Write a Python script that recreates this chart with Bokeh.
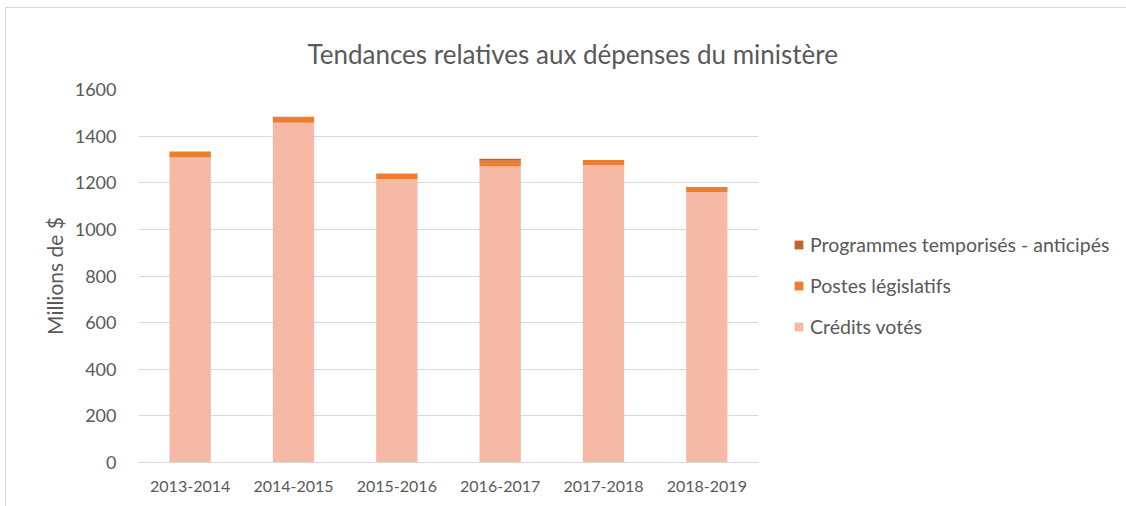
from bokeh.plotting import figure
from bokeh.models import Range1d, FixedTicker, Legend, LegendItem, FactorRange, ColumnDataSource
from bokeh.embed import file_html
from bokeh.resources import INLINE

years = ["2013-2014", "2014-2015", "2015-2016", "2016-2017", "2017-2018", "2018-2019"]
voted = [1308, 1457, 1216, 1270, 1276, 1159]
statutory = [26, 26, 24, 24, 22, 23]
sunset = [0, 0, 0, 9, 0, 0]
series_labels = ["Crédits votés", "Postes législatifs", "Programmes temporisés - anticipés"]
y_ticks = [0, 200, 400, 600, 800, 1000, 1200, 1400, 1600]

colors = ["#F5B9A6", "#ED7D31", "#C4622A"]
FONT = "Lato"
GRAY = "#595959"

src = ColumnDataSource(dict(years=years, voted=voted, statutory=statutory, sunset=sunset))

p = figure(x_range=FactorRange(*years), y_range=Range1d(0, 1600),
           frame_width=620, frame_height=373, output_backend="svg", toolbar_location=None,
           min_border_left=132, min_border_right=366, min_border_top=81, min_border_bottom=44)
p.outline_line_color = None
p.styles = {"margin-top": "7px", "margin-left": "5px",
            "border-top": "1px solid #d9d9d9", "border-left": "1px solid #d9d9d9"}

rs = p.vbar_stack(["voted", "statutory", "sunset"], x="years", width=0.4,
                  color=colors, line_color=None, source=src)

p.title.text = "Tendances relatives aux dépenses du ministère"
p.title.align = "left"
p.title.offset = 169
p.title.standoff = 40
p.title.text_font = FONT
p.title.text_font_size = "26px"
p.title.text_font_style = "normal"
p.title.text_color = GRAY

p.xgrid.grid_line_color = None
p.ygrid.grid_line_color = "#d9d9d9"
p.ygrid.grid_line_width = 1

p.yaxis.ticker = FixedTicker(ticks=y_ticks)
p.yaxis.axis_line_color = None
p.yaxis.major_tick_line_color = None
p.yaxis.minor_tick_line_color = None
p.yaxis.major_label_standoff = 16
p.yaxis.major_label_text_font = FONT
p.yaxis.major_label_text_font_size = "18px"
p.yaxis.major_label_text_color = GRAY
p.yaxis.axis_label = "Millions de $"
p.yaxis.axis_label_text_font = FONT
p.yaxis.axis_label_text_font_size = "21px"
p.yaxis.axis_label_text_font_style = "normal"
p.yaxis.axis_label_text_color = GRAY
p.yaxis.axis_label_standoff = 5

p.xaxis.axis_line_color = "#d9d9d9"
p.xaxis.major_tick_line_color = None
p.xaxis.minor_tick_line_color = None
p.xaxis.major_label_standoff = 12
p.xaxis.major_label_text_font = FONT
p.xaxis.major_label_text_font_size = "16px"
p.xaxis.major_label_text_color = GRAY

items = [LegendItem(label=series_labels[i], renderers=[rs[i]]) for i in (2, 1, 0)]
legend = Legend(items=items, location="top_left", glyph_width=11, glyph_height=11,
                title=" ", title_text_font_size="10px", title_standoff=98,
                label_text_font=FONT, label_text_font_size="19.5px", label_text_color=GRAY,
                label_height=22, spacing=18, label_standoff=6, padding=0, margin=35,
                border_line_color=None, background_fill_alpha=0)
p.add_layout(legend, "right")

open("out.html", "w").write(file_html(p, INLINE))
